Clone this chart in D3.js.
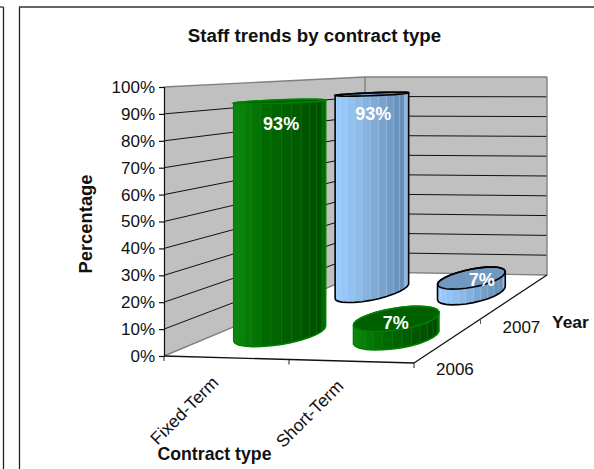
<!DOCTYPE html>
<html><head><meta charset="utf-8">
<script src="https://cdn.jsdelivr.net/npm/d3@7"></script>
<style>html,body{margin:0;padding:0;background:#fff}svg{display:block}text{font-family:"Liberation Sans",Arial,sans-serif;fill:#111}</style>
</head><body><svg id="c" width="594" height="469"></svg>
<script>
const categories = ["Fixed-Term", "Short-Term"];
const years = ["2006", "2007"];
const fixedTerm = [93, 93];
const shortTerm = [7, 7];
const valueTicks = [0,10,20,30,40,50,60,70,80,90,100];
const titleText = "Staff trends by contract type";

const W = 594, H = 469;
const svg = d3.select("#c");
const F = {A:[164,356],B:[414,363],C:[547,275],D:[365,272]};
const HT = {A:269,B:278,C:198,D:195};
const uS = d3.scaleBand().domain(categories).range([0,1]);
const vS = d3.scaleBand().domain(years).range([0,1]);
const pct = d3.scaleLinear().domain([0,100]).range([0,1]);
function project(u,v,val){
  const w=[(1-u)*(1-v),u*(1-v),u*v,(1-u)*v];
  const x=w[0]*F.A[0]+w[1]*F.B[0]+w[2]*F.C[0]+w[3]*F.D[0];
  const y=w[0]*F.A[1]+w[1]*F.B[1]+w[2]*F.C[1]+w[3]*F.D[1];
  const h=w[0]*HT.A+w[1]*HT.B+w[2]*HT.C+w[3]*HT.D;
  return [x,y-h*pct(val)];
}
const line=(a,b,col,sw)=>svg.append("line").attr("x1",a[0]).attr("y1",a[1]).attr("x2",b[0]).attr("y2",b[1]).attr("stroke",col).attr("stroke-width",sw);
const poly=(pts,fill,stroke,sw)=>svg.append("polygon").attr("points",pts.map(p=>p.join(",")).join(" ")).attr("fill",fill).attr("stroke",stroke||"none").attr("stroke-width",sw||0);

// page frames
line([19.5,7],[19.5,H],"#222",1.3); line([19,7],[W,7],"#333",1.3);
line([3.5,7],[3.5,H],"#222",1.3); line([0,7],[3.5,7],"#333",1.3);

// walls
poly([project(0,0,0),project(0,1,0),project(0,1,100),project(0,0,100)],"#c0c0c0");
poly([project(0,1,0),project(1,1,0),project(1,1,100),project(0,1,100)],"#c0c0c0");
// gridlines
valueTicks.filter(t=>t>0&&t<100).forEach(t=>{
  line(project(0,0,t),project(0,1,t),"#111",1);
  line(project(0,1,t),project(1,1,t),"#111",1);
});
// wall borders
[[project(0,0,100),project(0,1,100)],[project(0,1,100),project(1,1,100)],[project(1,1,100),project(1,1,0)],
 [project(0,1,100),project(0,1,0)],[project(0,0,0),project(0,1,0)],[project(0,1,0),project(1,1,0)]]
 .forEach(s=>line(s[0],s[1],"#808080",1.4));

// value axis
const yAxisScale=d3.scaleLinear().domain([0,100]).range([F.A[1],F.A[1]-HT.A]);
const gy=svg.append("g").attr("transform",`translate(${F.A[0]},0)`)
  .call(d3.axisLeft(yAxisScale).tickValues(valueTicks).tickSize(5).tickPadding(4).tickFormat(d=>d+"%"));
gy.selectAll("text").attr("font-size",17).style("font-family",'"Liberation Sans",Arial,sans-serif').attr("fill","#111");
gy.selectAll("line,path").attr("stroke","#111").attr("stroke-width",1.2);

// floor axes
line(project(0,0,0),project(1,0,0),"#111",1.3);
line(project(1,0,0),project(1,1,0),"#111",1.3);
[0,0.5,1].forEach(u=>{const p=project(u,0,0);line(p,[p[0],p[1]+5],"#222",1);});
[0.5].forEach(v=>{const p=project(1,v,0);line(p,[p[0],p[1]+5],"#555",1);});

// bars
const radius={ "2006":0.155, "2007":0.136 };
const nudge=[8,-3];
const topDrop=3;
const SEG=28;
function drawBar(cat,yr,val,pal){
  const u0=uS(cat)+uS.bandwidth()/2, v0=vS(yr)+vS.bandwidth()/2, r=radius[yr];
  const ang=d3.range(SEG).map(i=>i/SEG*2*Math.PI);
  const P=(a,h)=>{const p=project(u0+r*Math.cos(a),v0+r*Math.sin(a),h);return [p[0]+nudge[0],p[1]+nudge[1]+topDrop*pct(h)];};
  const base=ang.map(a=>P(a,0)), top=ang.map(a=>P(a,val));
  const all=base.concat(top), hull=d3.polygonHull(all);
  const ext=d3.extent(all,p=>p[0]);
  const col=d3.scaleLinear().domain([0,0.35,1]).range(pal.side).clamp(true);
  poly(hull,pal.side[1]);
  const quads=d3.range(SEG).map(i=>{const j=(i+1)%SEG;return [base[i],base[j],top[j],top[i]];})
    .filter(q=>(q[0][1]+q[1][1])/2>=d3.mean(base,p=>p[1])-1);
  quads.sort((a,b)=>a[0][0]-b[0][0]).forEach(q=>{
    const t=(d3.mean(q,p=>p[0])-ext[0])/(ext[1]-ext[0]);
    poly(q,col(t),pal.facet,0.5);
  });
  poly(top,pal.top,pal.edge,pal.sw);
  poly(hull,"none",pal.edge,pal.sw);
  return d3.polygonCentroid(top);
}
const green={side:["#0a8a0a","#006a00","#004a00"],top:"#006000",edge:"#008000",sw:1.5,facet:"rgba(60,150,60,.4)"};
const blue={side:["#99ccff","#8db9e6","#6088b0"],top:"#7098c0",edge:"#000",sw:1.6,facet:"rgba(210,230,250,.35)"};
const labelShift={ "2006":{big:[1,28],small:[-1,10]}, "2007":{big:[1,26],small:[10,8]} };
const labels=[];
[1,0].forEach(yi=>{
  const yr=years[yi], pal=yi===0?green:blue;
  [[categories[0],fixedTerm[yi]],[categories[1],shortTerm[yi]]].forEach(([c,v])=>{
    const ctr=drawBar(c,yr,v,pal);
    const s=labelShift[yr][v>50?"big":"small"];
    labels.push({x:ctr[0]+s[0],y:ctr[1]+s[1],v:v});
  });
});
labels.forEach(l=>{
  svg.append("text").attr("x",l.x).attr("y",l.y).attr("text-anchor","middle")
    .attr("font-size",18).attr("font-weight","bold").style("fill","#fff").text(l.v+"%");
});

// category labels
categories.forEach((c,i)=>{
  const p=project(uS(c)+uS.bandwidth()*0.22,0,0);
  svg.append("text").attr("transform",`translate(${p[0]+28},${p[1]+27}) rotate(-45)`)
    .attr("text-anchor","end").attr("font-size",17.5).text(c);
});
// year labels
const yearDy=[12,14];
years.forEach((y,i)=>{
  const p=project(1,vS(y),0);
  svg.append("text").attr("x",p[0]+22).attr("y",p[1]+yearDy[i]).attr("font-size",17).text(y);
});
// titles
svg.append("text").attr("x",314.5).attr("y",42).attr("text-anchor","middle").attr("font-size",18.7).attr("font-weight","bold").text(titleText);
svg.append("text").attr("transform","translate(92,224) rotate(-90)").attr("text-anchor","middle").attr("font-size",18.4).attr("font-weight","bold").text("Percentage");
svg.append("text").attr("x",214.5).attr("y",460).attr("text-anchor","middle").attr("font-size",17.7).attr("font-weight","bold").text("Contract type");
svg.append("text").attr("x",552).attr("y",328).attr("font-size",17.4).attr("font-weight","bold").text("Year");
</script></body></html>
